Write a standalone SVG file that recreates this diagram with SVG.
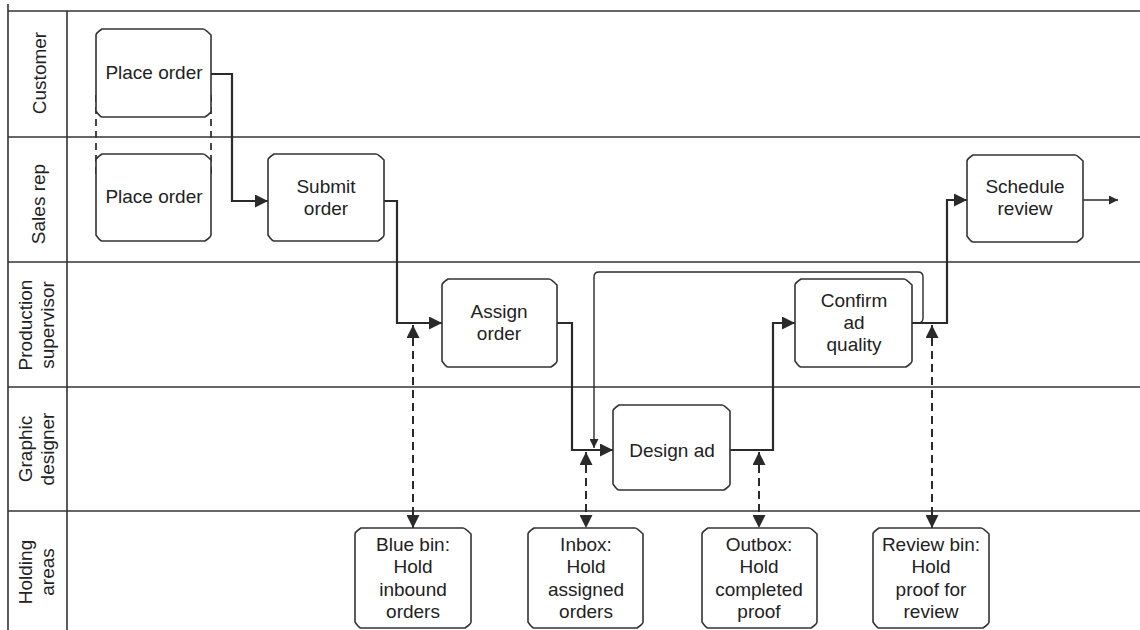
<svg xmlns="http://www.w3.org/2000/svg" width="1140" height="630" viewBox="0 0 1140 630">
<defs>
<style>
.lane{stroke:#333;stroke-width:1.6;fill:none}
.box{fill:#fff;stroke:#333;stroke-width:1.6;stroke-linejoin:round}
.flow{fill:none;stroke:#2a2a2a;stroke-width:2.2}
.thin{fill:none;stroke:#2a2a2a;stroke-width:1.4}
.dash{fill:none;stroke:#2a2a2a;stroke-width:2;stroke-dasharray:8 5}
.ddash{fill:none;stroke:#333;stroke-width:1.8;stroke-dasharray:7 5}
text{font-family:"Liberation Sans",Arial,sans-serif;font-size:19px;fill:#222;text-anchor:middle}
</style>
<marker id="ah" markerUnits="userSpaceOnUse" markerWidth="14" markerHeight="13" refX="13" refY="6.5" orient="auto-start-reverse">
<path d="M0,0 L13,6.5 L0,13 Z" fill="#2a2a2a"/>
</marker>
<marker id="as" markerUnits="userSpaceOnUse" markerWidth="10" markerHeight="9" refX="9" refY="4.5" orient="auto">
<path d="M0,0 L9,4.5 L0,9 Z" fill="#2a2a2a"/>
</marker>
</defs>

<g id="lanes">
<line class="lane" x1="8" y1="4" x2="8" y2="630"/>
<line class="lane" x1="67" y1="11" x2="67" y2="630"/>
<line class="lane" x1="8" y1="11" x2="1140" y2="11"/>
<line class="lane" x1="8" y1="137" x2="1140" y2="137"/>
<line class="lane" x1="8" y1="262" x2="1140" y2="262"/>
<line class="lane" x1="8" y1="387" x2="1140" y2="387"/>
<line class="lane" x1="8" y1="511" x2="1140" y2="511"/>
<text transform="translate(46,73) rotate(-90)">Customer</text>
<text transform="translate(45,204) rotate(-90)">Sales rep</text>
<text transform="translate(32,325) rotate(-90)">Production</text>
<text transform="translate(54,325) rotate(-90)">supervisor</text>
<text transform="translate(32,449) rotate(-90)">Graphic</text>
<text transform="translate(54,449) rotate(-90)">designer</text>
<text transform="translate(32,572) rotate(-90)">Holding</text>
<text transform="translate(54,572) rotate(-90)">areas</text>
</g>

<g id="connectors">
<line class="ddash" x1="96" y1="95" x2="96" y2="178"/>
<line class="ddash" x1="211" y1="95" x2="211" y2="178"/>
<path class="flow" d="M211,74 H232 V201 H268" marker-end="url(#ah)"/>
<path class="flow" d="M384,201 H397 V323 H442" marker-end="url(#ah)"/>
<path class="flow" d="M557,323 H572 V450 H613" marker-end="url(#ah)"/>
<path class="flow" d="M730,450 H773 V323 H795" marker-end="url(#ah)"/>
<path class="flow" d="M912,323 H947 V200 H967" marker-end="url(#ah)"/>
<path class="thin" d="M1083,200 H1118" marker-end="url(#as)"/>
<path class="thin" d="M912,323 H918 Q923,323 923,318 V277 Q923,272 918,272 H599 Q594,272 594,277 V448" marker-end="url(#as)"/>
<line class="dash" x1="413" y1="325" x2="413" y2="528" marker-start="url(#ah)" marker-end="url(#ah)"/>
<line class="dash" x1="586" y1="452" x2="586" y2="528" marker-start="url(#ah)" marker-end="url(#ah)"/>
<line class="dash" x1="759" y1="452" x2="759" y2="528" marker-start="url(#ah)" marker-end="url(#ah)"/>
<line class="dash" x1="932" y1="325" x2="932" y2="528" marker-start="url(#ah)" marker-end="url(#ah)"/>
</g>

<g id="place-order-customer">
<path class="box" d="M104,29 H203 Q205,29 211,35 V111 Q211,113 205,117 H102 Q100,117 96,111 V35 Q96,33 102,29 Z"/>
<text x="154" y="79">Place order</text>
</g>
<g id="place-order-sales">
<path class="box" d="M104,154 H203 Q205,154 211,160 V235 Q211,237 205,241 H102 Q100,241 96,235 V160 Q96,158 102,154 Z"/>
<text x="154" y="203">Place order</text>
</g>
<g id="submit-order">
<path class="box" d="M276,154 H376 Q378,154 384,160 V235 Q384,237 378,241 H274 Q272,241 268,235 V160 Q268,158 274,154 Z"/>
<text x="326" y="193">Submit</text>
<text x="326" y="215">order</text>
</g>
<g id="assign-order">
<path class="box" d="M450,279 H549 Q551,279 557,285 V361 Q557,363 551,367 H448 Q446,367 442,361 V285 Q442,283 448,279 Z"/>
<text x="499" y="318">Assign</text>
<text x="499" y="340">order</text>
</g>
<g id="design-ad">
<path class="box" d="M621,405 H722 Q724,405 730,411 V484 Q730,486 724,490 H619 Q617,490 613,484 V411 Q613,409 619,405 Z"/>
<text x="672" y="457">Design ad</text>
</g>
<g id="confirm-ad-quality">
<path class="box" d="M803,279 H904 Q906,279 912,285 V361 Q912,363 906,367 H801 Q799,367 795,361 V285 Q795,283 801,279 Z"/>
<text x="854" y="307">Confirm</text>
<text x="854" y="329">ad</text>
<text x="854" y="351">quality</text>
</g>
<g id="schedule-review">
<path class="box" d="M975,155 H1075 Q1077,155 1083,161 V236 Q1083,238 1077,242 H973 Q971,242 967,236 V161 Q967,159 973,155 Z"/>
<text x="1025" y="193">Schedule</text>
<text x="1025" y="215">review</text>
</g>
<g id="blue-bin">
<path class="box" d="M363,528 H463 Q465,528 471,534 V622 Q471,624 465,628 H361 Q359,628 355,622 V534 Q355,532 361,528 Z"/>
<text x="413" y="551">Blue bin:</text>
<text x="413" y="573">Hold</text>
<text x="413" y="596">inbound</text>
<text x="413" y="618">orders</text>
</g>
<g id="inbox">
<path class="box" d="M536,528 H635 Q637,528 643,534 V622 Q643,624 637,628 H534 Q532,628 528,622 V534 Q528,532 534,528 Z"/>
<text x="586" y="551">Inbox:</text>
<text x="586" y="573">Hold</text>
<text x="586" y="596">assigned</text>
<text x="586" y="618">orders</text>
</g>
<g id="outbox">
<path class="box" d="M710,528 H809 Q811,528 817,534 V622 Q817,624 811,628 H708 Q706,628 702,622 V534 Q702,532 708,528 Z"/>
<text x="759" y="551">Outbox:</text>
<text x="759" y="573">Hold</text>
<text x="759" y="596">completed</text>
<text x="759" y="618">proof</text>
</g>
<g id="review-bin">
<path class="box" d="M881,528 H981 Q983,528 989,534 V622 Q989,624 983,628 H879 Q877,628 873,622 V534 Q873,532 879,528 Z"/>
<text x="931" y="551">Review bin:</text>
<text x="931" y="573">Hold</text>
<text x="931" y="596">proof for</text>
<text x="931" y="618">review</text>
</g>
</svg>
